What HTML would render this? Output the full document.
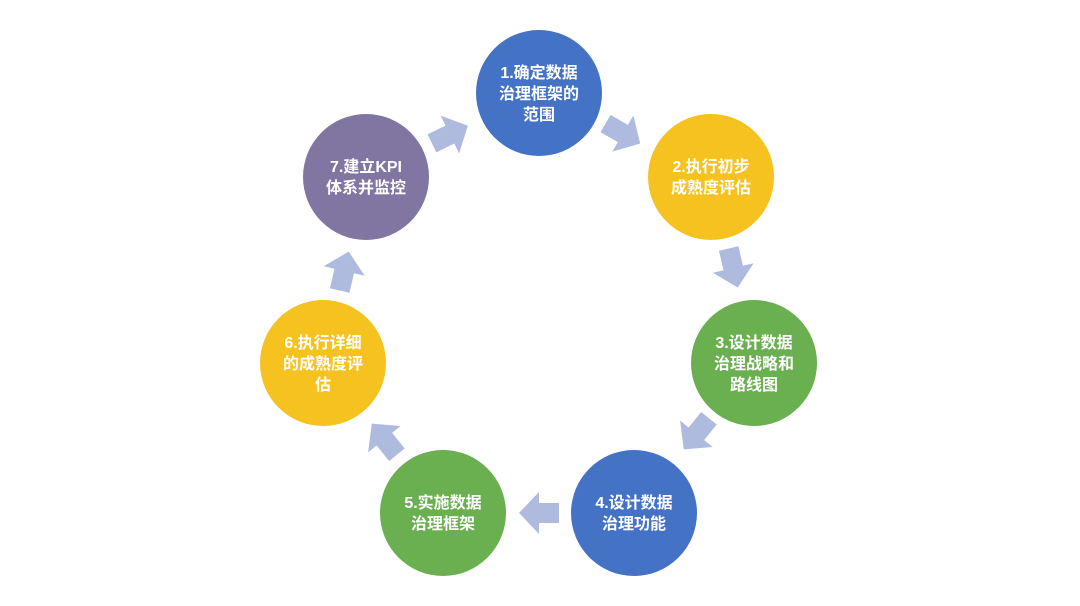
<!DOCTYPE html>
<html><head><meta charset="utf-8"><style>
body{margin:0;background:#fff;}
svg text{font-family:"Liberation Sans","Noto Sans CJK SC",sans-serif;font-weight:bold;font-size:16px;fill:#fff;text-anchor:middle;}
</style></head><body>
<svg width="1080" height="601" viewBox="0 0 1080 601">
<defs><polygon id="ar" points="-19,-10 1,-10 1,-21 21,0 1,21 1,10 -19,10" fill="#AEBBDF"/></defs>
<use href="#ar" transform="translate(622,133) rotate(30)"/>
<use href="#ar" transform="translate(733,267) rotate(77)"/>
<use href="#ar" transform="translate(697,433) rotate(129)"/>
<use href="#ar" transform="translate(540,513) rotate(180)"/>
<use href="#ar" transform="translate(385,440) rotate(231)"/>
<use href="#ar" transform="translate(344,272) rotate(-77)"/>
<use href="#ar" transform="translate(449,135) rotate(-26)"/>
<circle cx="539" cy="93" r="63" fill="#4472C4"/>
<circle cx="711" cy="177" r="63" fill="#F5C21F"/>
<circle cx="754" cy="363" r="63" fill="#6AAF50"/>
<circle cx="634" cy="513" r="63" fill="#4472C4"/>
<circle cx="443" cy="513" r="63" fill="#6AAF50"/>
<circle cx="323" cy="363" r="63" fill="#F5C21F"/>
<circle cx="366" cy="177" r="63" fill="#8176A2"/>
<text x="539" y="78">1.确定数据</text><text x="539" y="99">治理框架的</text><text x="539" y="120">范围</text>
<text x="711" y="172">2.执行初步</text><text x="711" y="193">成熟度评估</text>
<text x="754" y="348">3.设计数据</text><text x="754" y="369">治理战略和</text><text x="754" y="390">路线图</text>
<text x="634" y="508">4.设计数据</text><text x="634" y="529">治理功能</text>
<text x="443" y="508">5.实施数据</text><text x="443" y="529">治理框架</text>
<text x="323" y="348">6.执行详细</text><text x="323" y="369">的成熟度评</text><text x="323" y="390">估</text>
<text x="366" y="172">7.建立KPI</text><text x="366" y="193">体系并监控</text>
</svg>
</body></html>
